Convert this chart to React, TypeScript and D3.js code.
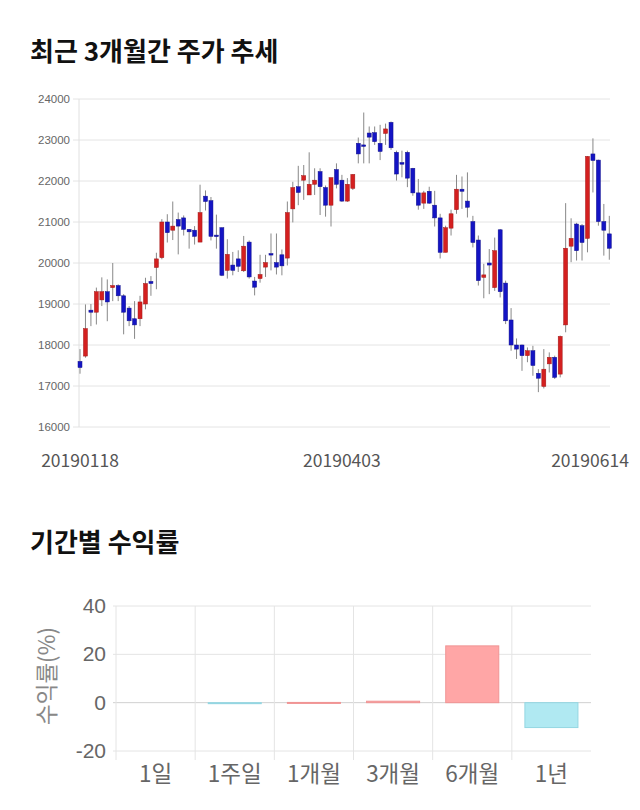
import React from "react";
import * as d3 from "d3";

const opens = [17600,17730,18850,18800,19100,19300,19400,19450,19200,18900,18640,18640,19000,19550,19890,20130,21000,20800,21060,21100,20820,20800,20510,21630,21520,20680,20860,19820,19950,20100,19810,20510,19560,19620,19900,20230,20010,20200,20120,21320,21860,22020,21660,21920,22230,21840,21410,22280,22020,21510,21820,22920,22880,23170,23180,22920,23160,23430,22700,22450,22700,22310,21710,21460,21750,21410,21100,20260,20850,21300,21800,21510,21010,20560,19650,20000,19400,20810,19510,18610,18000,18000,17740,17860,17310,16990,17540,17700,17290,18490,20410,20950,20910,20600,22660,22510,21010,20710];
const highs = [17900,18990,19000,19400,19650,19600,20000,19480,19240,18950,19070,19200,19640,19680,20250,21070,21190,21500,21230,21160,20830,20900,21910,21770,21610,21180,20870,20580,20270,20310,20660,20550,19660,20200,20200,20720,20720,20330,21500,21980,22370,22390,22700,22310,22310,21890,22090,22430,22150,22070,22170,23060,23670,23330,23330,23370,23400,23450,22740,22740,22740,22320,22050,21760,21860,21760,21200,20910,21300,22150,22110,22210,21150,20670,19980,20340,20620,20830,19570,18900,18160,18010,17940,17980,17410,17900,17820,17740,18230,21460,21090,20980,20950,22610,23040,22520,21440,21150];
const lows = [17300,17690,18460,18500,18950,18580,19070,19070,18260,18460,18150,18460,18870,19200,19360,20090,20500,20560,20210,20670,20350,20450,20510,21280,20550,20350,19680,19620,19700,19780,19780,19620,19210,19520,19660,19820,19720,19700,19940,20990,21410,21540,21660,21660,21170,21130,20890,21820,21490,21490,21780,22430,22430,22430,22880,22510,22880,22760,22010,22090,21850,21640,21300,21320,21440,20890,20110,20260,20670,21200,21320,21110,20380,19450,19140,19240,19320,19160,18510,17860,17660,17370,17580,17250,16850,16940,17330,17170,17210,18310,20020,20060,20060,20260,21720,20910,20180,20080];
const closes = [17450,18400,18800,19300,19300,19050,19450,19200,18800,18590,18490,19050,19500,19500,20100,21000,20740,20900,20900,20820,20760,20650,21230,21500,20650,20660,19700,20210,19820,19920,20410,19660,19410,19720,20010,20220,19900,19930,21230,21840,21720,22130,21920,22020,21860,21410,22080,21920,21510,21920,22160,22660,22850,23070,22960,22720,23270,22810,22170,22410,22070,21710,21410,21710,21460,21100,20260,20860,21200,21800,21750,21360,20500,19570,19710,19950,20300,19300,18590,18000,17900,17740,17860,17500,17190,17410,17700,17210,18210,20360,20600,20300,20500,22600,22500,21010,20800,20360];

const priceTicks = [16000,17000,18000,19000,20000,21000,22000,23000,24000];
const dateLabels = ["20190118", "20190403", "20190614"];
const dateLabelIdx = [0, 48, 97];

const periods = ["1일", "1주일", "1개월", "3개월", "6개월", "1년"];
const returns = [0, -0.3, 0.1, 0.6, 23.5, -10.3];
const returnTicks = [-20, 0, 20, 40];

const UP = "#d42020";
const DOWN = "#1414c4";
const KR = "'Noto Sans CJK KR', 'Noto Sans', sans-serif";

export default function App() {
  const n = opens.length;
  const x = d3.scaleLinear().domain([0, n - 1]).range([80, 609.3]);
  const y = d3.scaleLinear().domain([16000, 24000]).range([427, 99]);
  const bw = 4;

  const bx = d3.scaleBand<string>().domain(periods).range([116, 591]).paddingInner(0.33).paddingOuter(0.165);
  const step = bx.step();
  const by = d3.scaleLinear().domain([-20, 40]).range([751, 606]);

  return (
    <div style={{ position: "absolute", left: 0, top: 0 }}>
      <svg width={640} height={810} style={{ display: "block", background: "#fff" }}>
        <text x={30} y={61} fontFamily={KR} fontWeight="bold" fontSize={26} fill="#111">최근 3개월간 주가 추세</text>

        {priceTicks.map((t) => (
          <g key={t}>
            <line x1={73} x2={610} y1={y(t)} y2={y(t)} stroke="#e4e4e4" strokeWidth={1} />
            <text x={70} y={y(t) + 4} textAnchor="end" fontFamily="'Liberation Sans', Arial, sans-serif" fontSize={11.5} fill="#666">{t}</text>
          </g>
        ))}
        <line x1={79} x2={79} y1={99} y2={427} stroke="#e0e0e0" strokeWidth={1} />

        {opens.map((o, i) => {
          const c = closes[i];
          const up = c >= o;
          const top = y(Math.max(o, c));
          const bot = y(Math.min(o, c));
          const cx = x(i);
          return (
            <g key={i}>
              <line x1={cx} x2={cx} y1={y(highs[i])} y2={y(lows[i])} stroke="#888" strokeWidth={1} />
              <rect x={cx - bw / 2} y={top} width={bw} height={Math.max(1.5, bot - top)} fill={up ? UP : DOWN} stroke={up ? "#a01818" : "#10108c"} strokeWidth={0.5} />
            </g>
          );
        })}

        {dateLabels.map((d, k) => {
          const px = Math.min(x(dateLabelIdx[k]), 590);
          return (
            <text key={d} x={px} y={467} textAnchor="middle" fontFamily={KR} fontSize={17.5} fill="#555">{d}</text>
          );
        })}

        <text x={30} y={552} fontFamily={KR} fontWeight="bold" fontSize={26} fill="#111">기간별 수익률</text>

        {returnTicks.map((t) => (
          <g key={t}>
            <line x1={113} x2={591} y1={by(t)} y2={by(t)} stroke={t === 0 ? "#d0d0d0" : "#e4e4e4"} strokeWidth={1} />
            <text x={106} y={by(t) + 7} textAnchor="end" fontFamily="'Liberation Sans', Arial, sans-serif" fontSize={21} fill="#666">{t}</text>
          </g>
        ))}
        {periods.map((p, i) => {
          const left = 116 + i * step;
          return <line key={p} x1={left} x2={left} y1={606} y2={760} stroke="#e4e4e4" strokeWidth={1} />;
        })}
        {periods.map((p, i) => {
          const v = returns[i];
          if (v === 0) return null;
          const y0 = by(Math.max(0, v));
          const y1 = by(Math.min(0, v));
          return (
            <rect key={p} x={bx(p)} y={y0} width={bx.bandwidth()} height={Math.max(1, y1 - y0)}
              fill={v >= 0 ? "#ffa6a6" : "#b0e9f2"} stroke={v >= 0 ? "#f09494" : "#94d6e2"} strokeWidth={1} />
          );
        })}
        {periods.map((p) => (
          <text key={p} x={(bx(p) as number) + bx.bandwidth() / 2} y={782} textAnchor="middle" fontFamily={KR} fontSize={22.5} fill="#666">{p}</text>
        ))}
        <text transform="translate(55,676) rotate(-90)" textAnchor="middle" fontFamily={KR} fontSize={22.5} fill="#888">수익률(%)</text>
      </svg>
    </div>
  );
}
